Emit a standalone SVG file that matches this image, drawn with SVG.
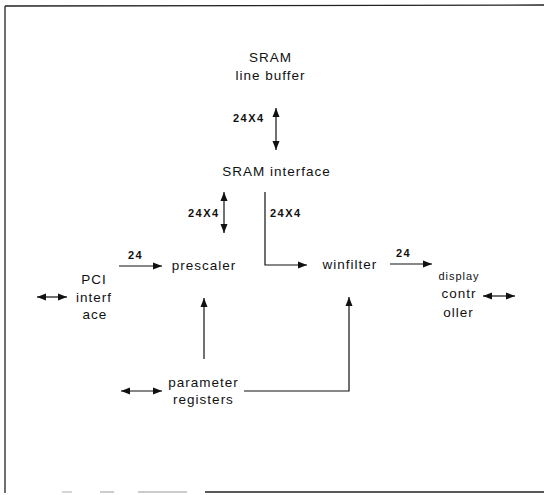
<svg xmlns="http://www.w3.org/2000/svg" width="544" height="495" viewBox="0 0 544 495">
<style>
  .lbl { font-family: "Liberation Sans", Arial, sans-serif; font-size: 13.5px; letter-spacing: 1px; fill: #111; text-anchor: middle; }
  .sm { font-size: 11px; }
  .bus { font-family: "Liberation Sans", Arial, sans-serif; font-size: 11px; font-weight: bold; letter-spacing: 1.5px; fill: #111; }
  .ln { stroke: #111; stroke-width: 1.2; fill: none; }
  .frame { stroke: #222; stroke-width: 1.3; fill: none; }
</style>
<defs>
  <marker id="ah" markerUnits="userSpaceOnUse" markerWidth="10" markerHeight="8" refX="9" refY="4" orient="auto-start-reverse">
    <path d="M0,0.5 L9,4 L0,7.5 Z" fill="#111"/>
  </marker>
</defs>
<rect width="544" height="495" fill="#fff"/>
<g id="frame">
  <line class="frame" x1="5" y1="6" x2="544" y2="5"/>
  <line class="frame" x1="5" y1="6" x2="5" y2="493"/>
  <line class="frame" x1="205" y1="492" x2="544" y2="492"/>
  <line x1="62" y1="492" x2="72" y2="492" stroke="#bbb" stroke-width="1.2"/>
  <line x1="100" y1="492" x2="114" y2="492" stroke="#aaa" stroke-width="1.2"/>
  <line x1="138" y1="492" x2="187" y2="492" stroke="#999" stroke-width="1.2"/>
</g>
<g id="connectors">
  <line class="ln" x1="276" y1="108" x2="276" y2="150" marker-start="url(#ah)" marker-end="url(#ah)"/>
  <text class="bus" x="233" y="122">24X4</text>
  <line class="ln" x1="224" y1="192" x2="224" y2="233" marker-start="url(#ah)" marker-end="url(#ah)"/>
  <text class="bus" x="188" y="217">24X4</text>
  <polyline class="ln" points="265,192 265,265 307,265" marker-end="url(#ah)"/>
  <text class="bus" x="270" y="217">24X4</text>
  <line class="ln" x1="119" y1="266" x2="162" y2="266" marker-end="url(#ah)"/>
  <text class="bus" x="128" y="259">24</text>
  <line class="ln" x1="390" y1="264" x2="432" y2="264" marker-end="url(#ah)"/>
  <text class="bus" x="396" y="257">24</text>
  <line class="ln" x1="37" y1="297" x2="67" y2="297" marker-start="url(#ah)" marker-end="url(#ah)"/>
  <line class="ln" x1="483" y1="296" x2="515" y2="296" marker-start="url(#ah)" marker-end="url(#ah)"/>
  <line class="ln" x1="121" y1="391" x2="162" y2="391" marker-start="url(#ah)" marker-end="url(#ah)"/>
  <line class="ln" x1="204" y1="359" x2="204" y2="298" marker-end="url(#ah)"/>
  <polyline class="ln" points="244,391 349,391 349,297" marker-end="url(#ah)"/>
</g>
<g id="sram_buffer">
  <text class="lbl" x="270.5" y="62">SRAM</text>
  <text class="lbl" x="270.5" y="80">line buffer</text>
</g>
<g id="sram_interface">
  <text class="lbl" x="276.5" y="176">SRAM interface</text>
</g>
<g id="prescaler">
  <text class="lbl" x="204" y="270">prescaler</text>
</g>
<g id="winfilter">
  <text class="lbl" x="350" y="269">winfilter</text>
</g>
<g id="pci_interface">
  <text class="lbl" x="94" y="284">PCI</text>
  <text class="lbl" x="94" y="302">interf</text>
  <text class="lbl" x="95" y="319">ace</text>
</g>
<g id="display_controller">
  <text class="lbl sm" x="459" y="280">display</text>
  <text class="lbl" x="459" y="298">contr</text>
  <text class="lbl" x="458.5" y="317">oller</text>
</g>
<g id="parameter_registers">
  <text class="lbl" x="203.5" y="387">parameter</text>
  <text class="lbl" x="203.5" y="404">registers</text>
</g>
</svg>
